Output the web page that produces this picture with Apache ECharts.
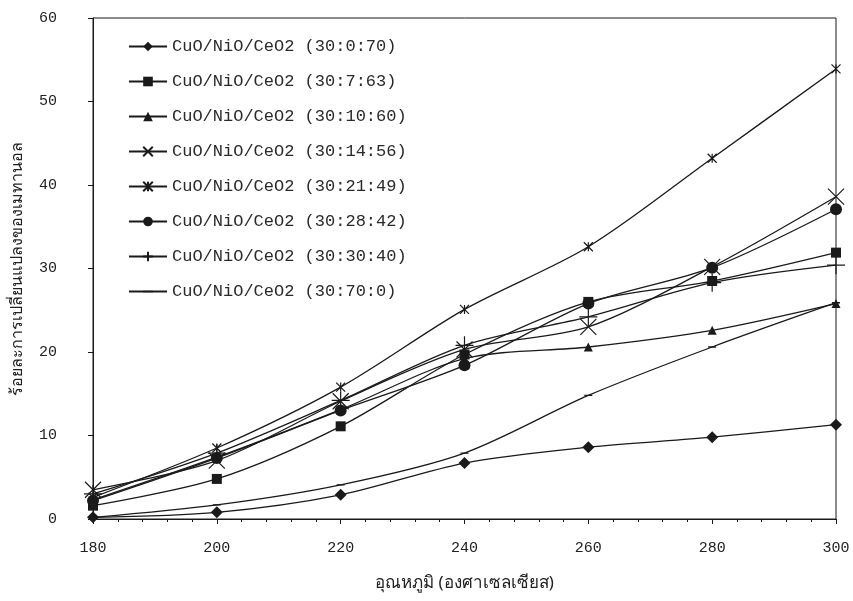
<!DOCTYPE html>
<html lang="th">
<head>
	<meta charset="UTF-8">
	<title>CuO/NiO/CeO2</title>
	<style>
		* {
			margin: 0;
			padding: 0;
		}

		#box {
			width: 853px;
			height: 601px;
			background: #fff;
		}
	</style>
	<script src="https://cdn.jsdelivr.net/npm/echarts@6/dist/echarts.min.js"></script>
</head>
<body>
<div id="box"></div>
</body>
<script>
	// อุณหภูมิ (x)
	const temps = [180, 200, 220, 240, 260, 280, 300];

	// ชื่อชุดข้อมูล
	const names = [
		'CuO/NiO/CeO2 (30:0:70)',
		'CuO/NiO/CeO2 (30:7:63)',
		'CuO/NiO/CeO2 (30:10:60)',
		'CuO/NiO/CeO2 (30:14:56)',
		'CuO/NiO/CeO2 (30:21:49)',
		'CuO/NiO/CeO2 (30:28:42)',
		'CuO/NiO/CeO2 (30:30:40)',
		'CuO/NiO/CeO2 (30:70:0)'
	];

	// ค่าที่อ่านจากรูป
	const s30_0_70 = [0.2, 0.8, 2.9, 6.7, 8.6, 9.8, 11.3];
	const s30_7_63 = [1.6, 4.8, 11.1, 19.7, 26.0, 28.5, 31.9];
	const s30_10_60 = [2.3, 7.4, 13.1, 19.2, 20.6, 22.6, 25.8];
	const s30_14_56 = [3.5, 7.0, 14.1, 20.3, 23.0, 30.2, 38.6];
	const s30_21_49 = [2.6, 8.5, 15.8, 25.1, 32.6, 43.2, 53.9];
	const s30_28_42 = [2.2, 7.3, 13.0, 18.4, 25.8, 30.1, 37.1];
	const s30_30_40 = [3.0, 7.9, 14.2, 20.8, 24.2, 28.3, 30.4];
	const s30_70_0 = [0.2, 1.7, 4.1, 7.9, 14.8, 20.6, 25.9];

	const allValues = [s30_0_70, s30_7_63, s30_10_60, s30_14_56, s30_21_49, s30_28_42, s30_30_40, s30_70_0];

	// สัญลักษณ์ของแต่ละเส้น
	const X_PATH = 'path://M0,0L10,10M10,0L0,10';
	const STAR_PATH = 'path://M0,0L10,10M10,0L0,10M5,0L5,10';
	const PLUS_PATH = 'path://M5,0L5,10M0,5L10,5';
	// ขีดสั้น ๆ (จุดเล็กบน-ล่างไว้ให้กรอบเป็นสี่เหลี่ยมจัตุรัส)
	const DASH_PATH = 'path://M0,0L0.01,0L0.01,0.01Z M0,4.2L10,4.2L10,5.8L0,5.8Z M0,9.99L0.01,9.99L0.01,10Z';

	const marks = [
		{symbol: 'diamond', size: 12, stroke: false},
		{symbol: 'rect', size: 10, stroke: false},
		{symbol: 'triangle', size: 9, stroke: false},
		{symbol: X_PATH, size: 16, stroke: true},
		{symbol: STAR_PATH, size: 9, stroke: true},
		{symbol: 'circle', size: 12, stroke: false},
		{symbol: PLUS_PATH, size: 18, stroke: true},
		{symbol: DASH_PATH, size: 8, stroke: false}
	];

	const ink = '#1a1a1a';
	const font = '"Liberation Mono", "DejaVu Sans Mono", monospace';
	const thaiFont = '"Noto Sans", "DejaVu Sans", sans-serif';

	const series = names.map(function (n, i) {
		const m = marks[i];
		return {
			name: n,
			type: 'line',
			smooth: 0.3,
			symbol: m.symbol,
			symbolSize: m.size,
			showAllSymbol: true,
			data: temps.map(function (t, k) {
				return [t, allValues[i][k]];
			}),
			lineStyle: {color: ink, width: 1.3},
			itemStyle: m.stroke
				? {color: 'transparent', borderColor: ink, borderWidth: 1.2}
				: {color: ink, borderColor: ink, borderWidth: 0},
			emphasis: {disabled: true}
		};
	});

	const myChart = echarts.init(document.getElementById('box'));

	myChart.setOption({
		animation: false,
		backgroundColor: '#fff',
		grid: {
			left: 93,
			right: 17,
			top: 18,
			bottom: 82,
			show: true,
			borderColor: ink,
			borderWidth: 1
		},
		legend: {
			orient: 'vertical',
			left: 128,
			top: 38,
			padding: 0,
			itemWidth: 38,
			itemHeight: 12,
			itemGap: 18,
			data: names,
			textStyle: {fontFamily: font, fontSize: 17, color: '#2a2a2a'}
		},
		xAxis: {
			type: 'value',
			min: 180,
			max: 300,
			interval: 20,
			name: 'อุณหภูมิ (องศาเซลเซียส)',
			nameLocation: 'middle',
			nameGap: 56,
			nameTextStyle: {fontSize: 17, color: '#222', fontFamily: thaiFont},
			axisLine: {lineStyle: {color: ink, width: 1}},
			axisTick: {show: true, length: 5, lineStyle: {color: ink}},
			minorTick: {show: true, splitNumber: 5, length: 3, lineStyle: {color: ink}},
			splitLine: {show: false},
			axisLabel: {fontFamily: font, fontSize: 15, color: '#222', margin: 22}
		},
		yAxis: {
			type: 'value',
			min: 0,
			max: 60,
			interval: 10,
			name: 'ร้อยละการเปลี่ยนแปลงของเมทานอล',
			nameLocation: 'middle',
			nameGap: 68,
			nameTextStyle: {fontSize: 16, color: '#222', fontFamily: thaiFont},
			axisLine: {show: true, lineStyle: {color: ink, width: 1}},
			axisTick: {show: true, length: 5, lineStyle: {color: ink}},
			splitLine: {show: false},
			axisLabel: {fontFamily: font, fontSize: 15, color: '#222', margin: 36}
		},
		series: series
	});
</script>
</html>
